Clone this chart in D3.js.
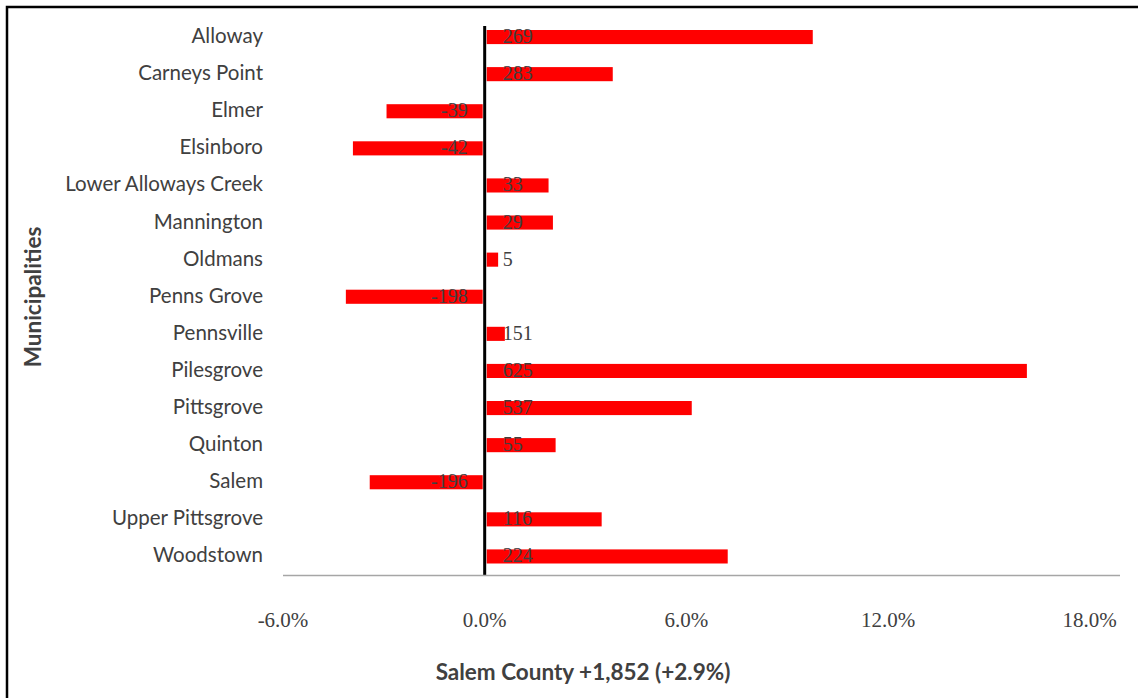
<!DOCTYPE html>
<html>
<head>
<meta charset="utf-8">
<script src="https://cdn.jsdelivr.net/npm/d3@7"></script>
<style>
    body { margin: 0; background: #fff; }
    svg { display: block; }
</style>
</head>
<body>
<svg id="chart"></svg>
<script>
const width = 1138;
const height = 698;

// municipalities, top to bottom
const municipalities = ['Alloway', 'Carneys Point', 'Elmer', 'Elsinboro', 'Lower Alloways Creek',
    'Mannington', 'Oldmans', 'Penns Grove', 'Pennsville', 'Pilesgrove', 'Pittsgrove',
    'Quinton', 'Salem', 'Upper Pittsgrove', 'Woodstown'];
// percent change
const pctChange = [9.76, 3.81, -2.92, -3.92, 1.90, 2.03, 0.40, -4.13, 0.6, 16.13, 6.16, 2.11, -3.42, 3.48, 7.23];
// absolute change (bar labels)
const numChange = [269, 283, -39, -42, 33, 29, 5, -198, 151, 625, 537, 55, -196, 116, 224];
const xTicks = [-6, 0, 6, 12, 18];
const xTitle = 'Salem County +1,852 (+2.9%)';
const yTitle = 'Municipalities';

const data = municipalities.map((name, i) => ({name: name, pct: pctChange[i], num: numChange[i]}));

const labelFont = 'Lato, "Open Sans", sans-serif';
const numFont = '"Liberation Serif", "DejaVu Serif", serif';
const textColor = '#404040';

const svg = d3.select('#chart')
    .attr('width', width)
    .attr('height', height);

svg.append('rect')
    .attr('width', width)
    .attr('height', height)
    .attr('fill', '#fff');

// frame (right and bottom edges fall outside the picture)
svg.append('path')
    .attr('d', `M7,${height} V7 H${width}`)
    .attr('fill', 'none')
    .attr('stroke', '#000')
    .attr('stroke-width', 2.5);

const x = d3.scaleLinear()
    .domain([-6, 18.9])
    .range([283, 1120]);

const y = d3.scaleBand()
    .domain(municipalities)
    .range([18.5, 575])
    .paddingInner(0.62)
    .paddingOuter(0.31);

// bars
svg.append('g')
    .selectAll('rect')
    .data(data)
    .enter().append('rect')
    .attr('x', d => d.pct >= 0 ? x(0) + 2 : x(d.pct))
    .attr('y', d => y(d.name))
    .attr('width', d => Math.abs(x(d.pct) - x(0)) - 2)
    .attr('height', y.bandwidth())
    .attr('fill', '#ff0000');

// zero line
svg.append('line')
    .attr('x1', x(0))
    .attr('x2', x(0))
    .attr('y1', 26)
    .attr('y2', 576)
    .attr('stroke', '#000')
    .attr('stroke-width', 3);

// category axis line at bottom
svg.append('line')
    .attr('x1', x.range()[0])
    .attr('x2', x.range()[1])
    .attr('y1', 575.5)
    .attr('y2', 575.5)
    .attr('stroke', '#a6a6a6')
    .attr('stroke-width', 1.5);

// value labels, inside base
svg.append('g')
    .selectAll('text')
    .data(data)
    .enter().append('text')
    .attr('x', d => d.pct >= 0 ? x(0) + 18 : x(0) - 17)
    .attr('y', d => y(d.name) + y.bandwidth() / 2 + 6)
    .attr('text-anchor', d => d.pct >= 0 ? 'start' : 'end')
    .style('font-family', numFont)
    .style('font-size', '20px')
    .attr('fill', textColor)
    .text(d => d.num);

// municipality labels
svg.append('g')
    .selectAll('text')
    .data(data)
    .enter().append('text')
    .attr('x', 263)
    .attr('y', d => y(d.name) + y.bandwidth() / 2 + 6)
    .attr('text-anchor', 'end')
    .style('font-family', labelFont)
    .style('font-size', '20.5px')
    .attr('fill', textColor)
    .text(d => d.name);

// x tick labels (plain hyphen for the minus, like the original)
svg.append('g')
    .selectAll('text')
    .data(xTicks)
    .enter().append('text')
    .attr('x', d => x(d))
    .attr('y', 627)
    .attr('text-anchor', 'middle')
    .style('font-family', numFont)
    .style('font-size', '21px')
    .attr('fill', textColor)
    .text(d => d.toFixed(1) + '%');

// axis titles
svg.append('text')
    .attr('x', 583)
    .attr('y', 680)
    .attr('text-anchor', 'middle')
    .style('font-family', labelFont)
    .style('font-size', '22.5px')
    .style('font-weight', 'bold')
    .attr('fill', textColor)
    .text(xTitle);

svg.append('text')
    .attr('transform', 'translate(41, 297) rotate(-90)')
    .attr('text-anchor', 'middle')
    .style('font-family', labelFont)
    .style('font-size', '22.5px')
    .style('font-weight', 'bold')
    .attr('fill', textColor)
    .text(yTitle);
</script>
</body>
</html>
